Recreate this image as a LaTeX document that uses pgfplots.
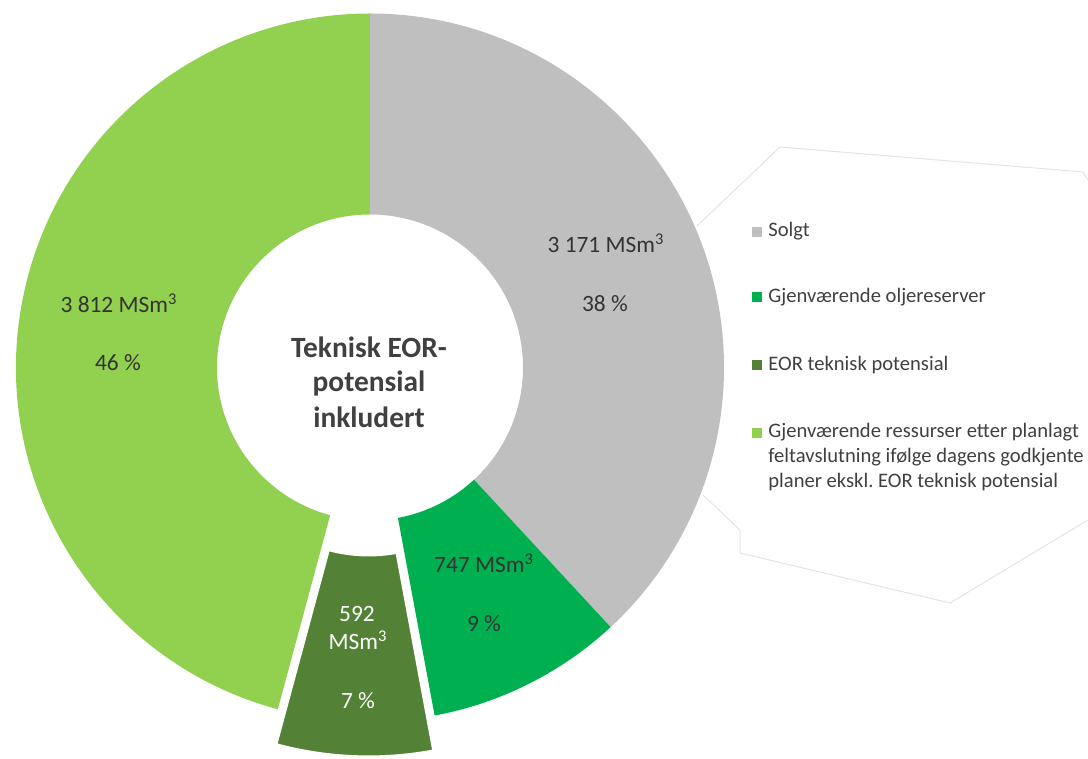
\documentclass[border=0pt]{standalone}
\usepackage{pgfplots}
\pgfplotsset{compat=1.18}
\usepackage{pgfplotstable}
\usepackage{fontspec}
\setmainfont{Carlito}
\usetikzlibrary{calc}
\definecolor{cSolgt}{HTML}{BFBFBF}
\definecolor{cOlje}{HTML}{00B050}
\definecolor{cEOR}{HTML}{538135}
\definecolor{cRest}{HTML}{92D050}
\definecolor{txt}{HTML}{404040}
\definecolor{lbl}{HTML}{333333}
\frenchspacing

\pgfplotstableread{
part value
Solgt 3171
Olje 747
EOR 592
Rest 3812
}\piedata

\newcommand{\sector}[4]{%
  \fill[#1] ($(axis cs:370,391.5)+(#4)+(#2:177pt)$) arc[start angle=#2, end angle=#3, radius=177pt]
    -- ($(axis cs:370,391.5)+(#4)+(#3:76.5pt)$) arc[start angle=#3, end angle=#2, radius=76.5pt] -- cycle;}

\begin{document}
\begin{tikzpicture}
\pgfplotstablegetelem{0}{value}\of\piedata \pgfmathsetmacro\vA{\pgfplotsretval}
\pgfplotstablegetelem{1}{value}\of\piedata \pgfmathsetmacro\vB{\pgfplotsretval}
\pgfplotstablegetelem{2}{value}\of\piedata \pgfmathsetmacro\vC{\pgfplotsretval}
\pgfplotstablegetelem{3}{value}\of\piedata \pgfmathsetmacro\vD{\pgfplotsretval}
\pgfmathsetmacro\tot{\vA+\vB+\vC+\vD}
\pgfmathsetmacro\aA{90}
\pgfmathsetmacro\aB{\aA-360*(\vA/\tot)}
\pgfmathsetmacro\aC{\aB-360*(\vB/\tot)}
\pgfmathsetmacro\aD{\aC-360*(\vC/\tot)}
\pgfmathsetmacro\aE{\aD-360*(\vD/\tot)}
\pgfmathsetmacro\aMid{(\aC+\aD)/2}
\begin{axis}[name=ax, scale only axis, width=544pt, height=379.5pt,
  xmin=0, xmax=1088, ymin=0, ymax=759, hide axis, clip=false]
% faint callout outline
\draw[gray!22, line width=0.5pt] (axis cs:697,533) -- (axis cs:780,612) -- (axis cs:1083,587) -- (axis cs:1088,579);
\draw[gray!22, line width=0.5pt] (axis cs:1088,239) -- (axis cs:950,156) -- (axis cs:740,206) -- (axis cs:740,229) -- (axis cs:703,264);
% donut
\sector{cSolgt}{\aA}{\aB}{0pt,0pt}
\sector{cOlje}{\aB}{\aC}{0pt,0pt}
\sector{cRest}{\aD}{\aE}{0pt,0pt}
\sector{cEOR, draw=white, line width=1pt}{\aC}{\aD}{\aMid:17.5pt}
% labels
\begin{scope}[every node/.style={font=\fontsize{11.7}{14}\selectfont, text=lbl, anchor=base, inner sep=0pt}]
\node at (axis cs:606,506) {3 171 MSm\textsuperscript{3}};
\node at (axis cs:605,447) {38 \%};
\node at (axis cs:119,446) {3 812 MSm\textsuperscript{3}};
\node at (axis cs:118,388) {46 \%};
\node at (axis cs:484,186) {747 MSm\textsuperscript{3}};
\node at (axis cs:484,127) {9 \%};
\node[text=white] at (axis cs:357,137) {592};
\node[text=white] at (axis cs:358,109) {MSm\textsuperscript{3}};
\node[text=white] at (axis cs:358,50) {7 \%};
\end{scope}
\begin{scope}[every node/.style={font=\bfseries\fontsize{14.7}{17}\selectfont, text=txt, anchor=base, inner sep=0pt}]
\node at (axis cs:369,401) {Teknisk EOR-};
\node at (axis cs:369,367) {potensial};
\node at (axis cs:369,331) {inkludert};
\end{scope}
% legend
\fill[cSolgt] (axis cs:752,522) rectangle (axis cs:762,532);
\fill[cOlje] (axis cs:752,457) rectangle (axis cs:762,467);
\fill[cEOR] (axis cs:752,389) rectangle (axis cs:762,399);
\fill[cRest] (axis cs:752,321) rectangle (axis cs:762,331);
\begin{scope}[every node/.style={font=\fontsize{10.3}{12}\selectfont, text=txt, anchor=base west, inner sep=0pt}]
\node at (axis cs:768,522) {Solgt};
\node at (axis cs:768,456) {Gjenværende oljereserver};
\node at (axis cs:768,388) {EOR teknisk potensial};
\node at (axis cs:768,321) {Gjenværende ressurser etter planlagt};
\node at (axis cs:768,296) {feltavslutning ifølge dagens godkjente};
\node at (axis cs:768,271) {planer ekskl.\ EOR teknisk potensial};
\end{scope}
\end{axis}
\pgfresetboundingbox
\path[use as bounding box] (ax.south west) rectangle (ax.north east);
\end{tikzpicture}
\end{document}
